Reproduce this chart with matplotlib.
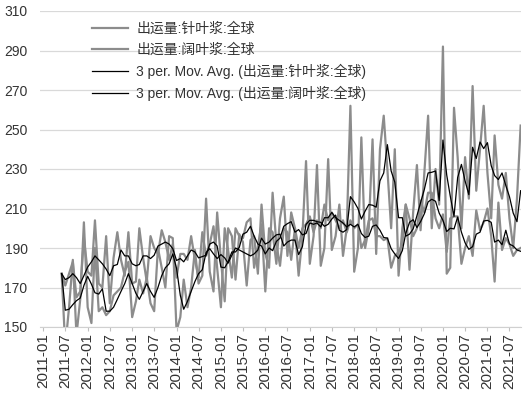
import pandas as pd
import matplotlib
matplotlib.use('Agg')
import matplotlib.pyplot as plt

plt.rcParams['font.family'] = ['Liberation Sans', 'Noto Sans CJK SC']

# monthly data, first value = 2011-06, last = 2021-10
start_month = '2011-06'
softwood = [177, 171, 177, 183, 165, 168, 195, 178, 176, 204, 172, 170, 196, 162, 185, 198,
            184, 176, 198, 172, 173, 200, 185, 173, 196, 190, 187, 199, 193, 184, 192, 175,
            187, 187, 184, 196, 184, 175, 198, 186, 192, 201, 180, 160, 200, 189, 175, 200,
            196, 195, 203, 205, 180, 191, 202, 168, 200, 198, 182, 205, 216, 186, 208, 200,
            190, 200, 202, 206, 198, 204, 200, 212, 204, 208, 204, 200, 204, 198, 204, 200,
            202, 190, 194, 204, 205, 196, 196, 194, 195, 180, 186, 188, 192, 212, 205, 196,
            200, 214, 208, 218, 218, 205, 200, 207, 188, 205, 206, 206, 182, 190, 196, 186,
            209, 199, 203, 210, 196, 173, 213, 189, 195, 192, 186, 189, 190]
hardwood = [177, 140, 160, 184, 146, 164, 203, 160, 152, 190, 158, 160, 156, 158, 166, 168,
            170, 178, 183, 155, 163, 174, 167, 175, 162, 158, 190, 180, 170, 196, 195, 148,
            155, 174, 160, 170, 189, 172, 176, 215, 178, 168, 208, 184, 163, 200, 196, 174,
            197, 193, 171, 194, 196, 177, 212, 187, 180, 218, 192, 181, 200, 198, 184, 200,
            176, 196, 234, 182, 196, 232, 181, 190, 235, 189, 196, 212, 186, 200, 262, 178,
            190, 246, 190, 200, 245, 187, 240, 257, 230, 200, 240, 176, 200, 212, 179, 208,
            232, 199, 228, 257, 200, 230, 212, 292, 177, 180, 261, 236, 200, 236, 215, 272,
            219, 240, 262, 228, 205, 247, 222, 215, 228, 205, 190, 215, 252]

labels = ['出运量:针叶浆:全球', '出运量:阔叶浆:全球',
          '3 per. Mov. Avg. (出运量:针叶浆:全球)', '3 per. Mov. Avg. (出运量:阔叶浆:全球)']

months = pd.date_range(start_month, periods=len(softwood), freq='MS')
tick_dates = pd.date_range('2011-01', '2021-07', freq='6MS')
tick_labels = tick_dates.strftime('%Y-%m')

soft = pd.Series(softwood, index=months)
hard = pd.Series(hardwood, index=months)
soft_ma = soft.rolling(3, min_periods=1).mean()
hard_ma = hard.rolling(3, min_periods=1).mean()

fig = plt.figure(figsize=(5.28, 3.98), dpi=100)
ax = fig.add_axes([40 / 528, 1 - 327 / 398, 481 / 528, 316 / 398])

ax.plot(soft.index, soft.values, color='#8c8c8c', lw=1.6, label=labels[0])
ax.plot(hard.index, hard.values, color='#8c8c8c', lw=1.6, label=labels[1])
ax.plot(soft_ma.index, soft_ma.values, color='black', lw=0.9, label=labels[2])
ax.plot(hard_ma.index, hard_ma.values, color='black', lw=0.9, label=labels[3])

ax.set_ylim(150, 310)
ax.set_yticks(range(150, 311, 20))
ax.set_xlim(pd.Timestamp('2010-12-05'), pd.Timestamp('2021-10-04'))
ax.set_xticks(tick_dates)
ax.set_xticklabels(tick_labels, rotation=90)

ax.grid(axis='y', color='#d9d9d9', lw=0.9)
ax.set_axisbelow(True)
for s in ['left', 'right', 'top']:
    ax.spines[s].set_visible(False)
ax.spines['bottom'].set_color('#d0d0d0')
ax.tick_params(axis='y', length=0, labelsize=10, colors='#333333', pad=9)
ax.tick_params(axis='x', length=3, color='#c0c0c0', labelsize=11, labelcolor='#333333', pad=1.5)

leg = ax.legend(loc='upper left', bbox_to_anchor=(0.108, 0.965), frameon=False, fontsize=10,
                handlelength=2.6, handletextpad=0.6, labelspacing=0.5, borderpad=0, borderaxespad=0)
for t in leg.get_texts():
    t.set_color('#333333')

fig.savefig('out.png', dpi=100)
